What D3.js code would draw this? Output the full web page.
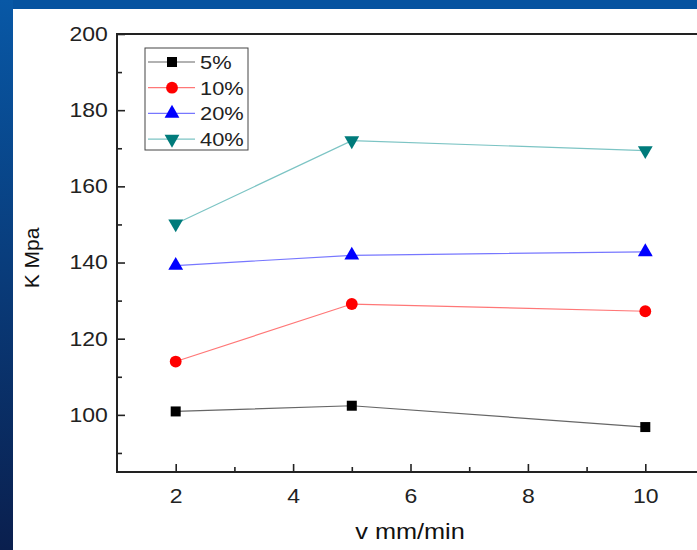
<!DOCTYPE html>
<html>
<head>
<meta charset="utf-8">
<script src="https://cdn.jsdelivr.net/npm/d3@7"></script>
<style>
body { margin: 0; padding: 0; background: #fff; }
text { font-family: "Liberation Sans", Arial, sans-serif; }
</style>
</head>
<body>
<div id="chart"></div>
<script>
var speeds = [2, 5, 10];
var seriesNames = ["5%", "10%", "20%", "40%"];
var k5 = [100.9, 102.4, 96.8];
var k10 = [114.0, 129.1, 127.2];
var k20 = [139.2, 141.9, 142.8];
var k40 = [150.2, 172.0, 169.4];
var yTicks = [100, 120, 140, 160, 180, 200];
var xTicks = [2, 4, 6, 8, 10];

var width = 697, height = 550;
var margin = { top: 34, left: 117, bottom: 78, right: -7 };
var stretch = 1.15; // the slide picture is a bit wider than tall

var svg = d3.select("#chart")
    .append("svg")
    .attr("width", width)
    .attr("height", height);

// slide background: blue strips on top and left
let grad = svg.append("defs").append("linearGradient")
    .attr("id", "sideGrad")
    .attr("x1", 0).attr("y1", 0).attr("x2", 0).attr("y2", 1);
grad.append("stop").attr("offset", "0%").attr("stop-color", "#0858a6");
grad.append("stop").attr("offset", "100%").attr("stop-color", "#0a1f4e");

svg.append("rect").attr("x", 0).attr("y", 0).attr("width", width).attr("height", 9)
    .attr("fill", "#0653a0");
svg.append("rect").attr("x", 0).attr("y", 0).attr("width", 13).attr("height", height)
    .attr("fill", "url(#sideGrad)");

var x = d3.scaleLinear()
    .domain([1, 11])
    .range([margin.left, width - margin.right]);
var y = d3.scaleLinear()
    .domain([85, 200])
    .range([height - margin.bottom, margin.top]);

var plotW = width - margin.right - margin.left;
var plotH = height - margin.bottom - margin.top;

// axes with inward ticks
let xAxis = svg.append("g")
    .attr("transform", "translate(0," + y(85) + ")")
    .call(d3.axisBottom(x).tickValues(xTicks).tickSize(-8).tickPadding(17).tickFormat(d3.format("d")));
let xMinor = svg.append("g")
    .attr("transform", "translate(0," + y(85) + ")")
    .call(d3.axisBottom(x).tickValues([3, 5, 7, 9]).tickSize(-5).tickFormat(""));

let yAxis = svg.append("g")
    .attr("transform", "translate(" + x(1) + ",0)")
    .call(d3.axisLeft(y).tickValues(yTicks).tickSize(-8).tickPadding(8).tickFormat(d3.format("d")));
let yMinor = svg.append("g")
    .attr("transform", "translate(" + x(1) + ",0)")
    .call(d3.axisLeft(y).tickValues([90, 110, 130, 150, 170, 190]).tickSize(-5).tickFormat(""));

[xAxis, xMinor, yAxis, yMinor].forEach(function (g) {
    g.select(".domain").remove();
    g.selectAll("line").attr("stroke", "#222").attr("stroke-width", 1.6);
    g.selectAll("text")
        .attr("fill", "#222")
        .attr("transform", "scale(" + stretch + ",1)")
        .style("font-size", "20px");
});

// frame
svg.append("rect")
    .attr("x", margin.left)
    .attr("y", margin.top)
    .attr("width", plotW)
    .attr("height", plotH)
    .attr("fill", "none")
    .attr("stroke", "#222")
    .attr("stroke-width", 2);

var series = [
    { name: seriesNames[0], values: k5, color: "#000", line: "#666", shape: d3.symbolSquare, size: 100, rot: 0 },
    { name: seriesNames[1], values: k10, color: "#f00", line: "#f77", shape: d3.symbolCircle, size: 110, rot: 0 },
    { name: seriesNames[2], values: k20, color: "#00f", line: "#77f", shape: d3.symbolTriangle, size: 95, rot: 0 },
    { name: seriesNames[3], values: k40, color: "#007b7b", line: "#7cc4c4", shape: d3.symbolTriangle, size: 95, rot: 180 }
];

var line = d3.line()
    .x(function (d, i) { return x(speeds[i]); })
    .y(function (d) { return y(d); });

series.forEach(function (s) {
    svg.append("path")
        .datum(s.values)
        .attr("d", line)
        .attr("fill", "none")
        .attr("stroke", s.line)
        .attr("stroke-width", 1.2);
    svg.selectAll(null)
        .data(s.values)
        .enter()
        .append("path")
        .attr("d", d3.symbol().type(s.shape).size(s.size))
        .attr("transform", function (d, i) {
            return "translate(" + x(speeds[i]) + "," + y(d) + ") rotate(" + s.rot + ")";
        })
        .attr("fill", s.color);
});

// legend
let legend = svg.append("g").attr("transform", "translate(145,48)");
legend.append("rect")
    .attr("width", 103)
    .attr("height", 102)
    .attr("fill", "#fff")
    .attr("stroke", "#444")
    .attr("stroke-width", 1);
series.forEach(function (s, i) {
    let gy = 14 + i * 25.7;
    legend.append("line")
        .attr("x1", 3).attr("x2", 50)
        .attr("y1", gy).attr("y2", gy)
        .attr("stroke", s.line)
        .attr("stroke-width", 1.2);
    legend.append("path")
        .attr("d", d3.symbol().type(s.shape).size(s.size))
        .attr("transform", "translate(27," + gy + ") rotate(" + s.rot + ")")
        .attr("fill", s.color);
    legend.append("g")
        .attr("transform", "translate(55," + gy + ") scale(" + stretch + ",1)")
        .append("text")
        .attr("dy", "0.36em")
        .attr("fill", "#222")
        .style("font-size", "19px")
        .text(s.name);
});

// axis titles
svg.append("g")
    .attr("transform", "translate(410,539) scale(" + stretch + ",1)")
    .append("text")
    .attr("text-anchor", "middle")
    .attr("fill", "#111")
    .style("font-size", "22px")
    .text("v mm/min");
svg.append("g")
    .attr("transform", "translate(39,258) rotate(-90)")
    .append("text")
    .attr("text-anchor", "middle")
    .attr("fill", "#111")
    .style("font-size", "21px")
    .text("K Mpa");
</script>
</body>
</html>
